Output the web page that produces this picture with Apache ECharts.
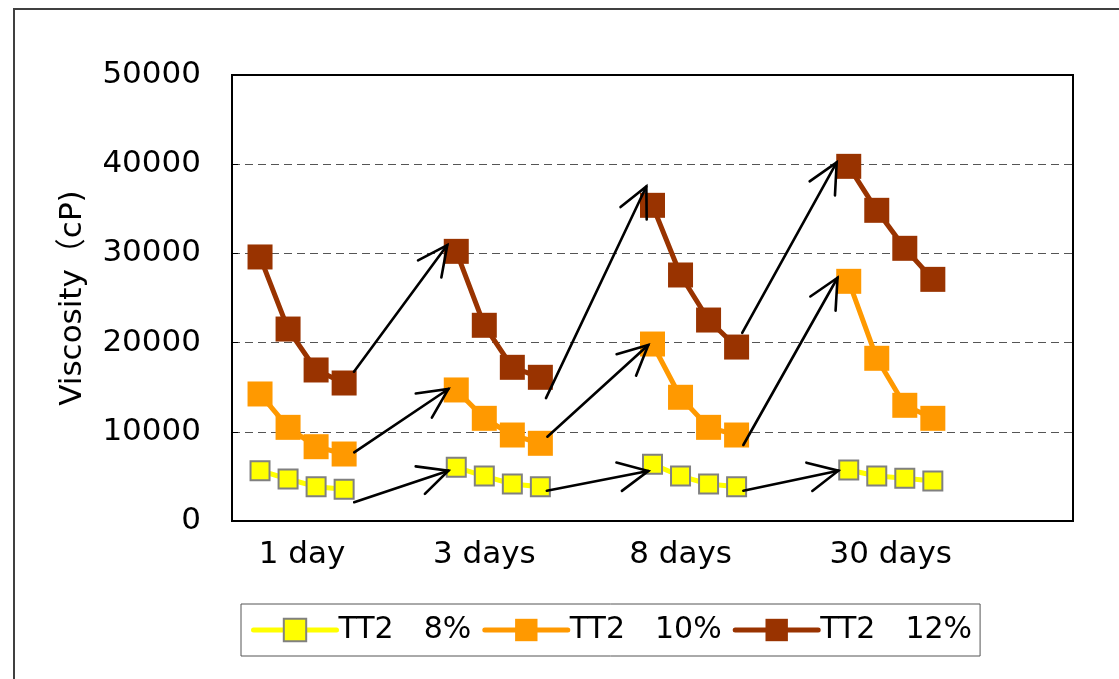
<!DOCTYPE html>
<html>
<head>
<meta charset="utf-8">
<script src="https://cdn.jsdelivr.net/npm/echarts@6/dist/echarts.min.js"></script>
<style>
  html, body { margin: 0; padding: 0; background: #fff; }
  #chart { width: 1119px; height: 679px; }
</style>
</head>
<body>
<div id="chart"></div>
<script>
// storage time groups (4 measurements in each group)
const dayLabels = ['1 day', '3 days', '8 days', '30 days'];
const labelSlots = [2.5, 9, 16, 23.5];

// viscosity (cP)
const tt2_8 = [
  [5640, 4710, 3850, 3550],
  [6020, 5040, 4150, 3850],
  [6360, 5040, 4150, 3850],
  [5720, 5040, 4790, 4480]
];
const tt2_10 = [
  [14240, 10500, 8330, 7510],
  [14690, 11510, 9640, 8710],
  [19840, 13870, 10500, 9640],
  [26870, 18240, 12970, 11510]
];
const tt2_12 = [
  [29600, 21520, 16930, 15470],
  [30230, 21940, 17230, 16110],
  [35390, 27580, 22530, 19500],
  [39760, 34830, 30570, 27090]
];

// hand drawn arrows [x1, y1, x2, y2] in data units
const arrows8 = [[4.36, 2100, 7.72, 5640], [11.23, 3400, 14.85, 5600], [18.24, 3400, 21.63, 5640]];
const arrows10 = [[4.36, 7700, 7.72, 14800], [11.25, 9450, 14.85, 19730], [18.24, 8520, 21.6, 27270]];
const arrows12 = [[4.35, 16740, 7.68, 30940], [11.2, 13780, 14.78, 37500], [18.2, 21080, 21.57, 40200]];

const FONT = '"DejaVu Sans", "Noto Sans CJK JP", sans-serif';
const groupStep = 7;

// lay groups out along x, null between groups breaks the line
function toPoints(groups) {
  const out = [];
  groups.forEach((vals, g) => {
    vals.forEach((v, i) => out.push([g * groupStep + i + 1, v]));
    if (g < groups.length - 1) out.push([g * groupStep + vals.length + 1, null]);
  });
  return out;
}

// open "V" arrow head
function renderArrow(params, api) {
  const p1 = api.coord([api.value(0), api.value(1)]);
  const p2 = api.coord([api.value(2), api.value(3)]);
  const ang = Math.atan2(p2[1] - p1[1], p2[0] - p1[0]);
  const len = 33, half = 26 * Math.PI / 180;
  const a1 = [p2[0] - len * Math.cos(ang - half), p2[1] - len * Math.sin(ang - half)];
  const a2 = [p2[0] - len * Math.cos(ang + half), p2[1] - len * Math.sin(ang + half)];
  const style = { stroke: '#000', lineWidth: 2.6, fill: null, lineCap: 'round' };
  return {
    type: 'group',
    children: [
      { type: 'line', shape: { x1: p1[0], y1: p1[1], x2: p2[0], y2: p2[1] }, style },
      { type: 'polyline', shape: { points: [a1, p2, a2] }, style }
    ]
  };
}

const chart = echarts.init(document.getElementById('chart'));

chart.setOption({
  animation: false,
  textStyle: { fontFamily: FONT },
  graphic: [{
    type: 'rect',
    shape: { x: 14, y: 9, width: 1300, height: 900 },
    style: { fill: 'none', stroke: '#404040', lineWidth: 2 },
    silent: true
  }],
  grid: {
    left: 232, right: 46, top: 75, bottom: 158,
    show: true, borderColor: '#000', borderWidth: 2, backgroundColor: 'transparent'
  },
  legend: {
    left: 241, top: 604,
    itemWidth: 83, itemHeight: 28, itemGap: 11,
    padding: [11, 8, 11, 10],
    borderColor: '#555', borderWidth: 1,
    lineStyle: { width: 5, cap: 'round' },
    textStyle: { fontSize: 30, color: '#000', fontFamily: FONT, padding: [0, 0, 0, -3] },
    data: ['TT2　8%', 'TT2　10%', 'TT2　12%']
  },
  xAxis: {
    type: 'value', min: 0, max: 30,
    axisLine: { show: true, lineStyle: { color: '#000', width: 2 } },
    axisTick: { show: false },
    splitLine: { show: false },
    axisLabel: {
      customValues: labelSlots,
      formatter: v => dayLabels[labelSlots.indexOf(v)] || '',
      fontSize: 31, color: '#000', margin: 18, fontFamily: FONT
    }
  },
  yAxis: {
    type: 'value', min: 0, max: 50000, interval: 10000,
    name: 'Viscosity（cP)',
    nameLocation: 'middle', nameGap: 144,
    nameTextStyle: { fontSize: 31, color: '#000', fontFamily: FONT },
    axisLine: { show: true, lineStyle: { color: '#000', width: 2 } },
    axisTick: { show: true, inside: true, length: 6, lineStyle: { color: '#000' } },
    splitLine: {
      show: true, showMinLine: false, showMaxLine: false,
      lineStyle: { color: '#555', width: 1, type: [8, 5] }
    },
    axisLabel: {
      fontSize: 31, color: '#000', margin: 31, fontFamily: FONT,
      formatter: v => String(v)
    }
  },
  series: [
    {
      name: 'TT2　8%', type: 'line', data: toPoints(tt2_8),
      symbol: 'rect', symbolSize: 19,
      lineStyle: { color: '#FFFF00', width: 5 },
      itemStyle: { color: '#FFFF00', borderColor: '#808080', borderWidth: 2 },
      z: 3
    },
    {
      name: 'TT2　10%', type: 'line', data: toPoints(tt2_10),
      symbol: 'rect', symbolSize: 25,
      lineStyle: { color: '#FF9900', width: 5 },
      itemStyle: { color: '#FF9900' },
      z: 3
    },
    {
      name: 'TT2　12%', type: 'line', data: toPoints(tt2_12),
      symbol: 'rect', symbolSize: 25,
      lineStyle: { color: '#993300', width: 5 },
      itemStyle: { color: '#993300' },
      z: 3
    },
    {
      name: 'arrows', type: 'custom', silent: true, z: 4,
      renderItem: renderArrow,
      data: arrows8.concat(arrows10, arrows12)
    }
  ]
});
</script>
</body>
</html>
